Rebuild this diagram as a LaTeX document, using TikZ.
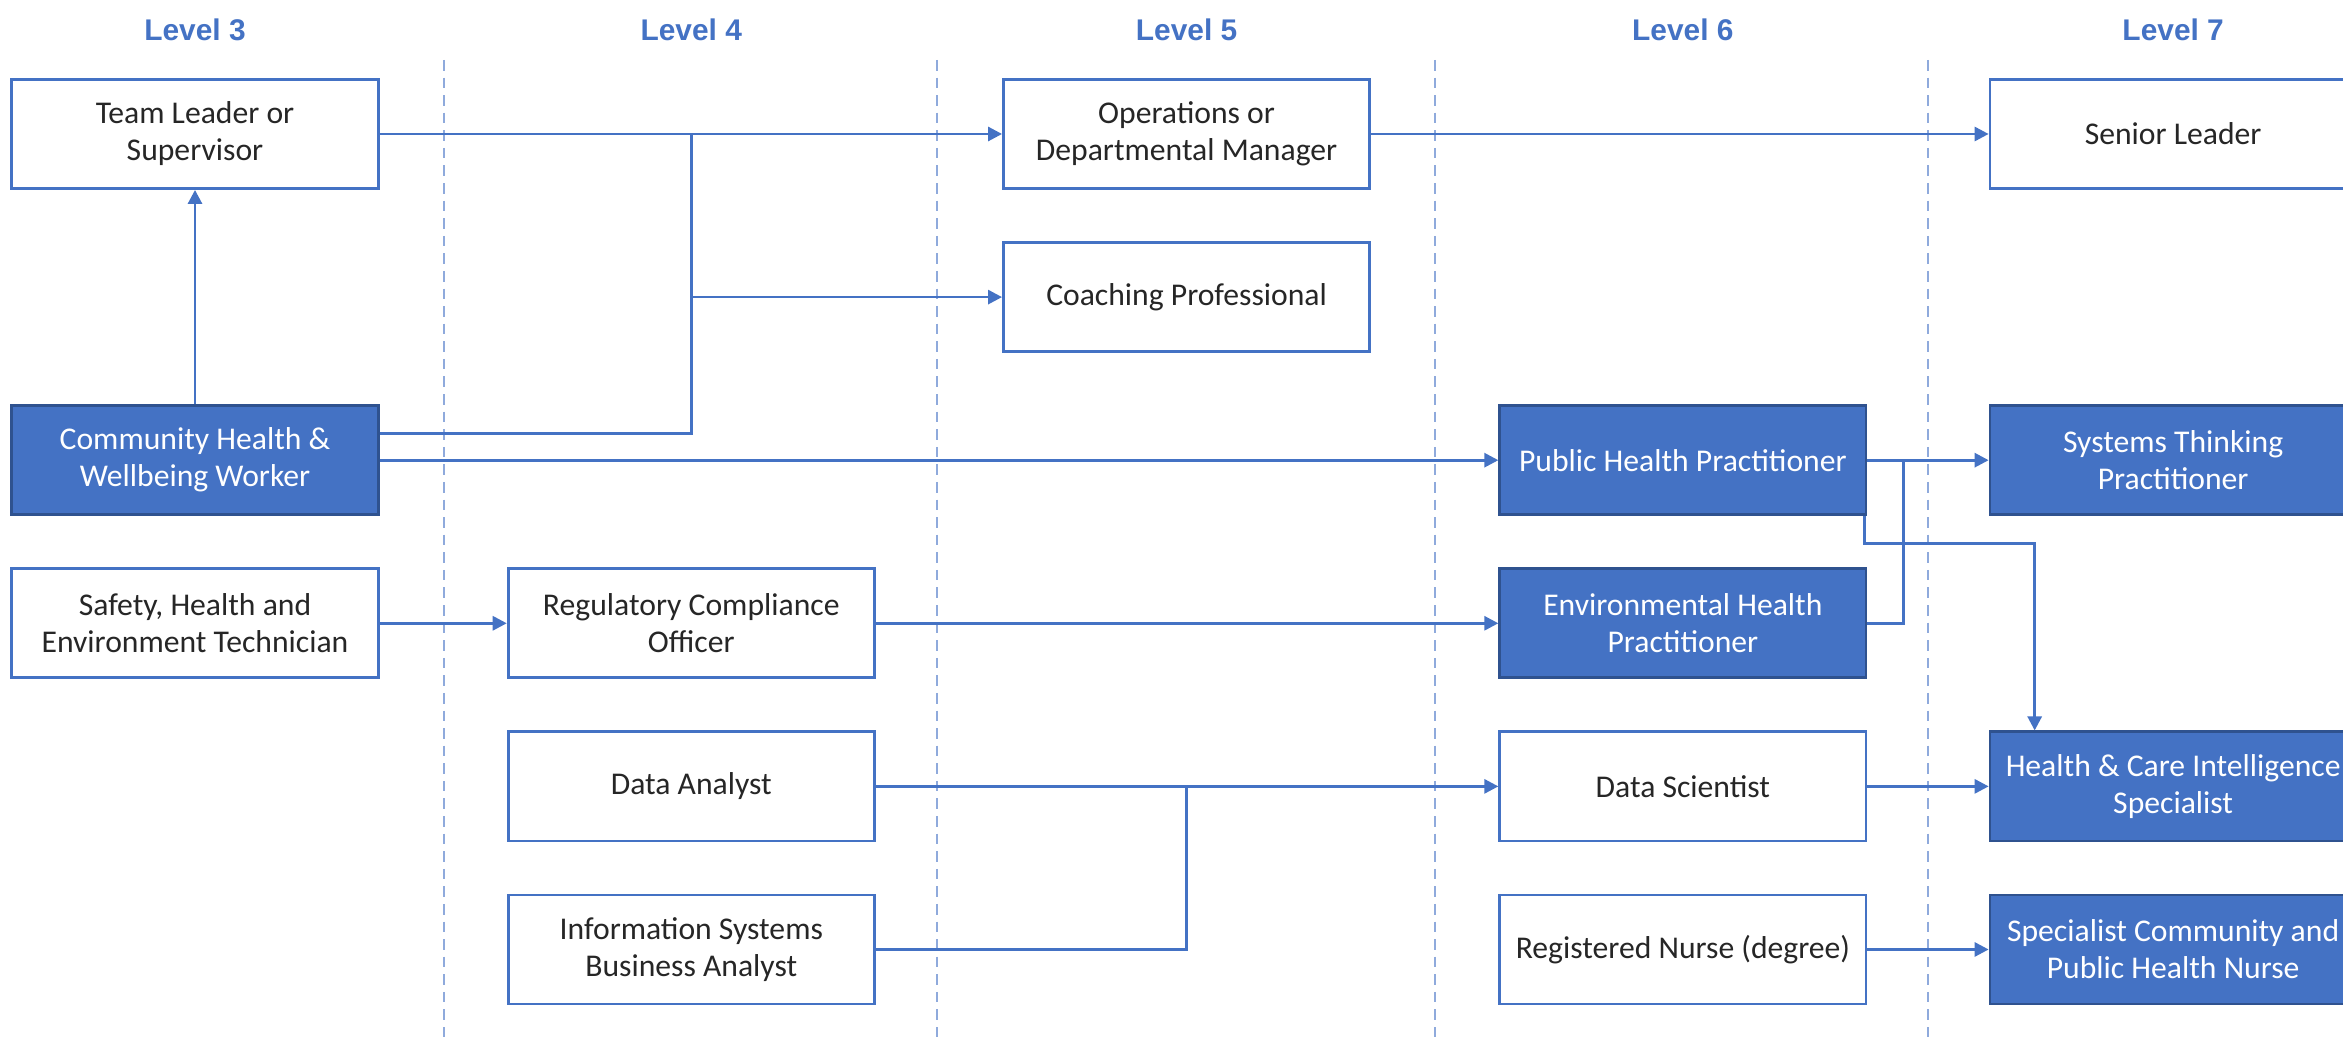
\documentclass[tikz,border=0pt]{standalone}
\usepackage{fontspec}
\setmainfont{Carlito}
\newfontfamily\levelfont{Liberation Sans}
\usetikzlibrary{arrows.meta, calc, positioning}
\definecolor{offblue}{HTML}{4472C4}
\definecolor{darkblue}{HTML}{2F528F}
\definecolor{paleblue}{HTML}{8FAADC}
\definecolor{boxtext}{HTML}{262626}

\begin{document}
\begin{tikzpicture}[x=0.01cm, y=-0.01cm, node distance=1.63cm, >={Triangle[length=4pt,width=4pt]}]
 % We define the styles for the boxes, the connectors and the headers
 \tikzset{
block/.style = {draw=offblue, rectangle, line width=0.8pt, fill=white, text=boxtext, align=center, minimum height=1.09cm, minimum width=3.66cm, inner sep=2pt, font=\fontsize{9}{10.5}\selectfont},
fblock/.style = {block, draw=darkblue, fill=offblue, text=white},
line/.style = {draw, ->, offblue, line width=0.8pt},
level/.style = {text=offblue, font=\levelfont\bfseries\fontsize{8.5}{10}\selectfont},
divider/.style = {draw=paleblue, line width=0.5pt, dash pattern=on 3pt off 2pt},
}
 \useasboundingbox (0,0) rectangle (2343,1037);

 % Column dividers
 \foreach \x in {444,937,1435,1928}
   \draw [divider] (\x,60) -- (\x,1037);

 % Level 3 column
 \node [block] (teamlead) at (195,134) {Team Leader or\\Supervisor};
 \node [fblock, below of=teamlead, node distance=3.26cm] (chww) {Community Health \&\\Wellbeing Worker};
 \node [block, below of=chww] (shetech) {Safety, Health and\\Environment Technician};

 % Level 4 column
 \node [block, right of=shetech, node distance=4.96cm] (regcomp) {Regulatory Compliance\\Officer};
 \node [block, below of=regcomp] (danalyst) {Data Analyst};
 \node [block, below of=danalyst] (infosys) {Information Systems\\Business Analyst};

 % Level 5 column
 \node [block, right of=teamlead, node distance=9.91cm] (opsman) {Operations or\\Departmental Manager};
 \node [block, below of=opsman] (coach) {Coaching Professional};

 % Level 6 column
 \node [fblock, right of=chww, node distance=14.87cm] (phprac) {Public Health Practitioner};
 \node [fblock, below of=phprac] (envhealth) {Environmental Health\\Practitioner};
 \node [block, below of=envhealth] (dscientist) {Data Scientist};
 \node [block, below of=dscientist] (regnurse) {Registered Nurse (degree)};

 % Level 7 column
 \node [block, right of=opsman, node distance=9.86cm] (senior) {Senior Leader};
 \node [fblock, right of=phprac, node distance=4.9cm] (systhink) {Systems Thinking\\Practitioner};
 \node [fblock, right of=dscientist, node distance=4.9cm] (hcintel) {Health \& Care Intelligence\\Specialist};
 \node [fblock, right of=regnurse, node distance=4.9cm] (scphn) {Specialist Community and\\Public Health Nurse};

 % Headers
 \node [level, above of=teamlead, node distance=1.04cm] (lev3) {Level 3};
 \node [level, right of=lev3, node distance=4.96cm] (lev4) {Level 4};
 \node [level, above of=opsman, node distance=1.04cm] (lev5) {Level 5};
 \node [level, right of=lev5, node distance=4.96cm] (lev6) {Level 6};
 \node [level, above of=senior, node distance=1.04cm] (lev7) {Level 7};

 % Connectors
 \draw [line] (chww.north) -- (teamlead.south);
 \draw [line] (teamlead.east) -- (opsman.west);
 \draw [line] (opsman.east) -- (senior.west);
 \draw [line] ([yshift=0.27cm]chww.east) -| (regcomp.center |- coach.west) -- (coach.west);
 \draw [line, -] (regcomp.center |- coach.west) -- (regcomp.center |- teamlead.east);
 \draw [line] (chww.east) -- (phprac.west);
 \draw [line] (shetech.east) -- (regcomp.west);
 \draw [line] (regcomp.east) -- (envhealth.west);
 \draw [line] (phprac.east) -- (systhink.west);
 \draw [line, -] (envhealth.east) -| ([xshift=0.36cm]phprac.east);
 \draw [line] ([xshift=-0.03cm]phprac.south east) -- ++(0,-0.27cm) -| ([xshift=0.46cm]hcintel.north west);
 \draw [line] (danalyst.east) -- (dscientist.west);
 \draw [line, -] (infosys.east) -| (coach.center |- danalyst.east);
 \draw [line] (dscientist.east) -- (hcintel.west);
 \draw [line] (regnurse.east) -- (scphn.west);

\end{tikzpicture}
\end{document}
